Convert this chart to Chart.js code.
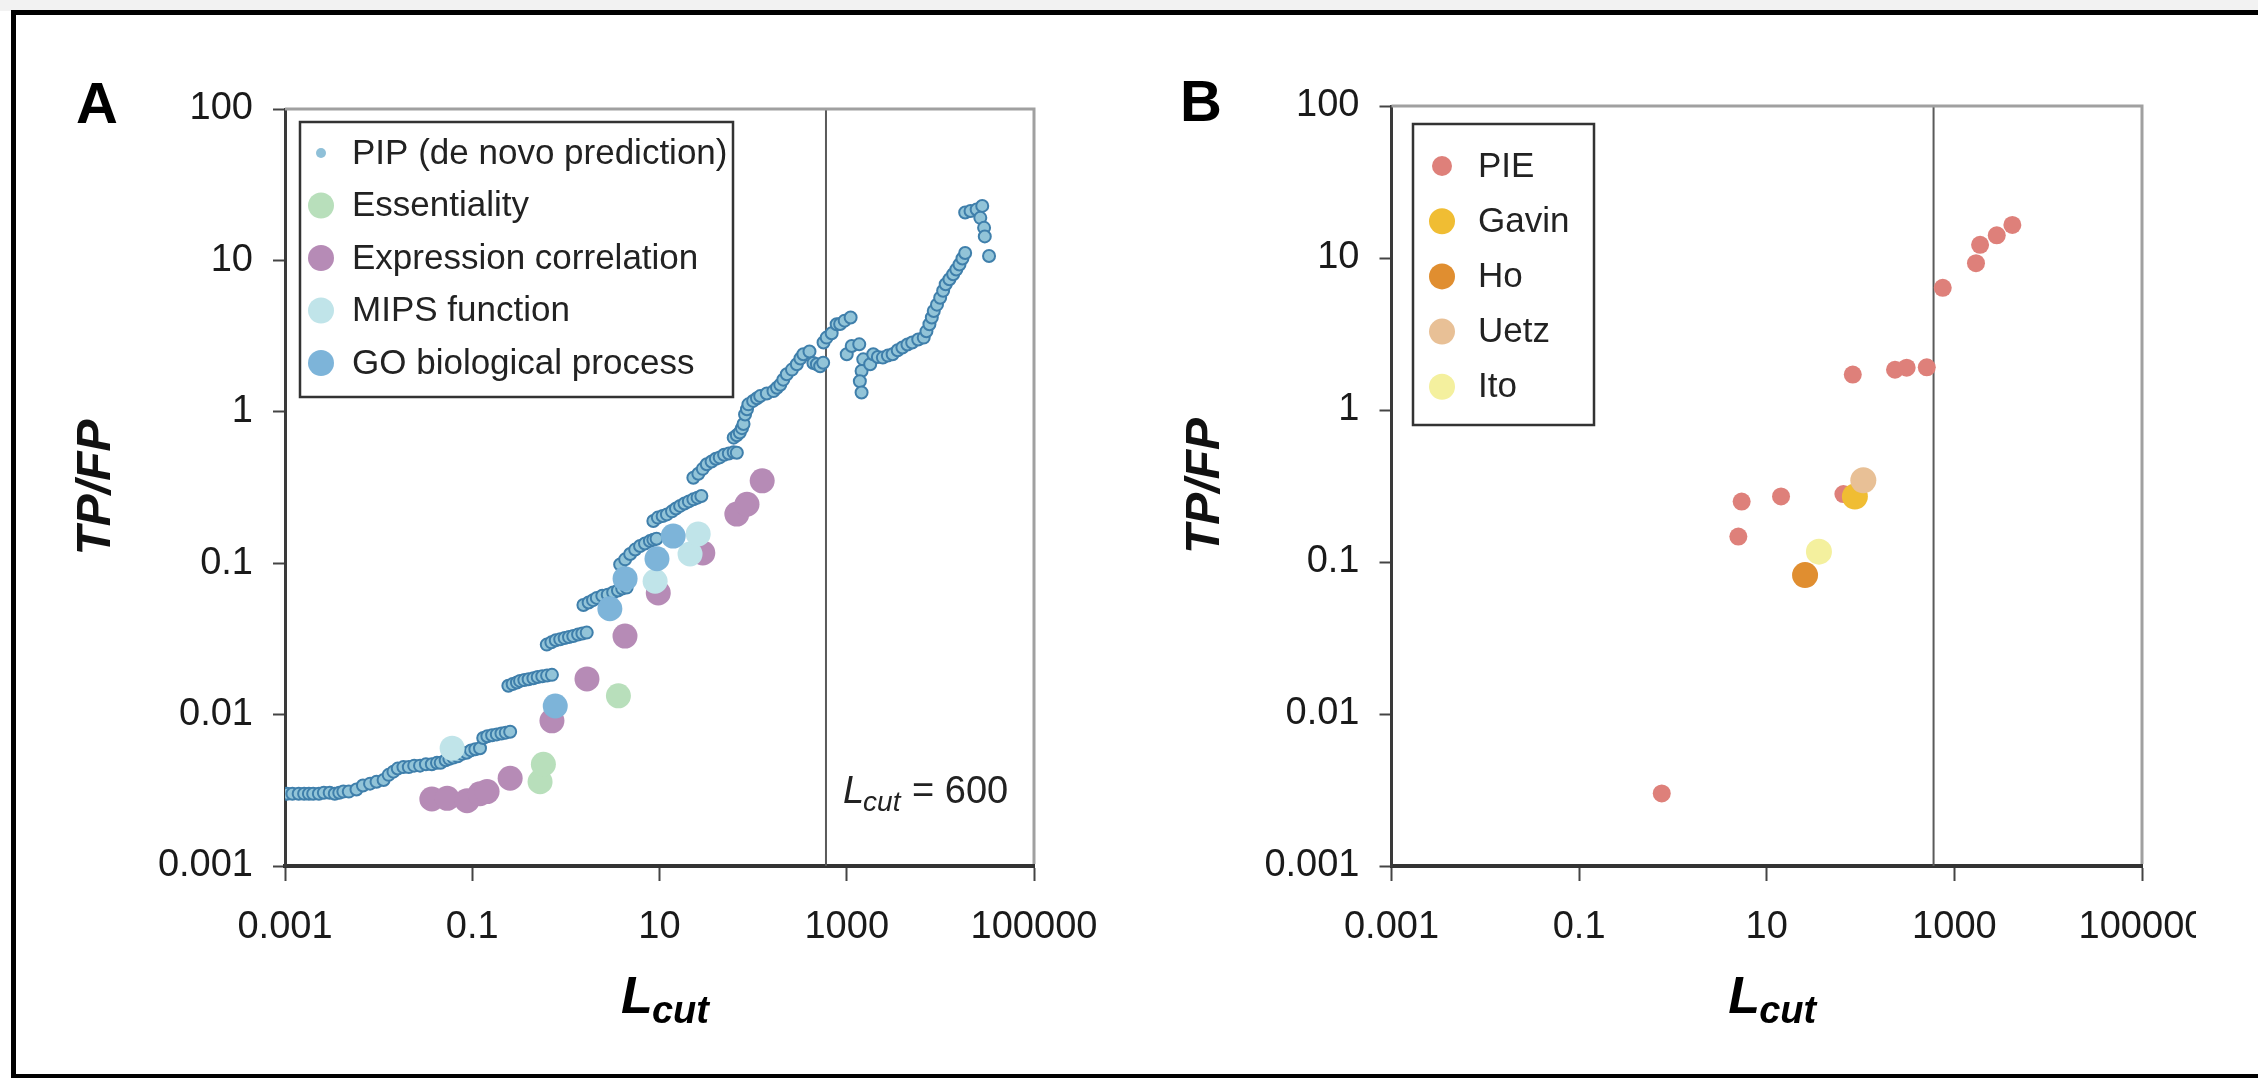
<!DOCTYPE html>
<html>
<head>
<meta charset="utf-8">
<script src="https://cdn.jsdelivr.net/npm/chart.js@4.4.1/dist/chart.umd.min.js"></script>
<style>
  html, body { margin: 0; padding: 0; background: #fff; }
  body { width: 2258px; height: 1078px; position: relative; overflow: hidden; }
  #strip { position: absolute; left: 0; top: 0; width: 2258px; height: 11px; background: #f2f2f2; }
  #frame { position: absolute; left: 11px; top: 10px; width: 2260px; height: 1059px;
           border-left: 5px solid #000; border-top: 5px solid #000; border-bottom: 4px solid #000; }
  #wrapA { position: absolute; left: 0; top: 0; width: 1130px; height: 1078px; }
  #wrapB { position: absolute; left: 1130px; top: 0; width: 1066px; height: 1078px; overflow: hidden; }
</style>
</head>
<body>
<div id="strip"></div>
<div id="frame"></div>
<div id="wrapA"><canvas id="chartA" width="1130" height="1078"></canvas></div>
<div id="wrapB"><canvas id="chartB" width="1128" height="1078"></canvas></div>
<script>
// axis ticks
var xTicks = [0.001, 0.1, 10, 1000, 100000];
var xTickLabels = ['0.001', '0.1', '10', '1000', '100000'];
var yTicks = [0.001, 0.01, 0.1, 1, 10, 100];
var yTickLabels = ['0.001', '0.01', '0.1', '1', '10', '100'];
var lcut = 600;
var lcutLabelY = 0.0026;

// panel A : PIP de novo prediction, [Lcut, TP/FP]
var pip = [
  [0.00105,0.0030],[0.0012,0.0030],[0.0014,0.0030],[0.0016,0.0030],[0.0018,0.0030],[0.002,0.0030],
  [0.0023,0.0030],[0.0026,0.00305],[0.003,0.00305],[0.0034,0.0030],[0.0038,0.00305],[0.0042,0.0031],
  [0.0048,0.0031],[0.0058,0.0032],[0.0068,0.0034],[0.0081,0.0035],[0.0095,0.0036],[0.0113,0.0037],
  [0.0128,0.0040],[0.0144,0.0042],[0.016,0.0044],[0.0184,0.0045],[0.021,0.0045],[0.024,0.0046],
  [0.0277,0.0046],[0.032,0.0047],[0.037,0.0047],[0.042,0.0048],[0.046,0.0048],[0.052,0.0050],
  [0.057,0.0051],[0.063,0.0052],[0.07,0.0053],[0.078,0.0055],[0.087,0.0056],[0.097,0.0058],
  [0.108,0.0059],[0.121,0.0060],
  [0.131,0.0070],[0.145,0.0072],[0.163,0.0073],[0.183,0.0074],[0.205,0.0075],[0.228,0.0076],[0.254,0.0077],
  [0.243,0.0155],[0.27,0.0159],[0.3,0.0163],[0.324,0.0167],[0.36,0.0169],[0.4,0.0171],[0.45,0.0174],
  [0.5,0.0177],[0.56,0.0179],[0.63,0.0181],[0.71,0.0183],
  [0.625,0.029],[0.7,0.030],[0.78,0.031],[0.87,0.0314],[0.97,0.032],[1.08,0.0325],[1.2,0.033],
  [1.35,0.0338],[1.5,0.0343],[1.67,0.0348],
  [1.54,0.053],[1.75,0.055],[1.95,0.057],[2.14,0.059],[2.45,0.061],[2.8,0.062],[3.2,0.064],
  [3.6,0.066],[4.0,0.068],[4.46,0.069],
  [3.8,0.098],[4.3,0.106],[4.86,0.115],[5.5,0.123],[6.2,0.13],[7.0,0.135],[7.9,0.14],[8.6,0.143],[9.3,0.145],
  [8.6,0.19],[9.6,0.2],[10.8,0.205],[12,0.21],[13.6,0.22],[15,0.23],[16.6,0.239],[18.5,0.248],
  [20.6,0.256],[23,0.264],[25.5,0.271],[28,0.278],
  [23,0.367],[26,0.39],[29,0.42],[32,0.45],[36,0.47],[40,0.49],[44,0.50],[49,0.52],[55,0.53],[62,0.54],[67,0.537],
  [62,0.675],[67,0.7],[72,0.73],[76,0.78],[79,0.83],[82,0.96],[86,1.04],[89,1.12],[100,1.18],[110,1.23],
  [119,1.27],[140,1.32],[165,1.37],[180,1.44],[195,1.51],[210,1.63],[229,1.77],[260,1.9],[293,2.06],
  [320,2.25],[344,2.4],[400,2.5],[440,2.1],[480,2.06],[520,2.0],[560,2.11],[565,2.87],[610,3.09],
  [690,3.3],[780,3.79],[850,3.8],[950,4.0],[1100,4.2],
  [1000,2.4],[1130,2.72],[1360,2.79],[1500,2.22],[1440,1.86],[1380,1.59],[1440,1.34],[1780,2.06],
  [1920,2.4],[2150,2.3],[2430,2.28],[2750,2.35],[3090,2.4],[3500,2.55],[3930,2.66],[4450,2.78],
  [5000,2.87],[5800,3.0],[6640,3.09],[7100,3.4],[7640,3.79],[8100,4.2],[8500,4.63],[9200,5.1],
  [9950,5.67],[10700,6.3],[11400,6.95],[12500,7.5],[13700,8.1],[14800,8.7],[16000,9.4],[17200,10.3],
  [18400,11.2],[18400,20.7],[21000,21.2],[24400,21.7],[28000,22.9],[26700,19.1],[29300,16.4],
  [29800,14.4],[33100,10.7]
];
var essentiality = [[0.53,0.0036],[0.575,0.0047],[3.64,0.0133]];
var expression = [[0.037,0.00277],[0.054,0.0028],[0.088,0.0027],[0.121,0.0030],[0.144,0.0031],
  [0.254,0.0038],[0.71,0.0091],[1.68,0.0172],[4.28,0.033],[9.7,0.0636],[29,0.117],[67,0.211],
  [86,0.245],[125,0.35]];
var mips = [[0.061,0.0060],[8.98,0.076],[21.2,0.115],[25.9,0.156]];
var goProcess = [[0.77,0.0114],[2.95,0.050],[4.29,0.079],[9.4,0.107],[14,0.151]];

// panel B
var pie = [[0.76,0.0030],[4.98,0.147],[5.4,0.25],[14.2,0.27],[65.6,0.28],[82.6,1.71],[233,1.84],
  [310,1.9],[508,1.91],[752,6.37],[1700,9.25],[1880,12.2],[2830,14.1],[4150,16.5]];
var gavin = [[87,0.27]];
var ho = [[25.6,0.082]];
var uetz = [[107,0.345]];
var ito = [[36,0.117]];

var FONT = '"Liberation Sans", Arial, Helvetica, sans-serif';
Chart.defaults.font.family = FONT;
Chart.defaults.color = '#1a1a1a';

function pts(arr) { return arr.map(function (p) { return {x: p[0], y: p[1]}; }); }

function ds(label, arr, color, r, order, extra) {
  var d = {
    label: label, data: pts(arr), backgroundColor: color, borderColor: color,
    borderWidth: 0, pointRadius: r, pointHoverRadius: r, order: order
  };
  return Object.assign(d, extra || {});
}

var decor = {
  id: 'decor',
  beforeDatasetsDraw: function (chart) {
    var ctx = chart.ctx, a = chart.chartArea;
    var lx = chart.scales.x.getPixelForValue(lcut);
    ctx.save();
    ctx.strokeStyle = '#5a5a5a';
    ctx.lineWidth = 2;
    ctx.beginPath(); ctx.moveTo(lx, a.top); ctx.lineTo(lx, a.bottom); ctx.stroke();
    ctx.restore();
  },
  afterDraw: function (chart, args, o) {
    var ctx = chart.ctx, a = chart.chartArea;
    var xs = chart.scales.x, ys = chart.scales.y;
    ctx.save();
    // top and right edge of the plot
    ctx.strokeStyle = '#a0a0a0';
    ctx.lineWidth = 3;
    ctx.beginPath(); ctx.moveTo(a.left, a.top); ctx.lineTo(a.right, a.top); ctx.lineTo(a.right, a.bottom - 2); ctx.stroke();

    // panel letter
    ctx.fillStyle = '#000';
    ctx.textBaseline = 'alphabetic';
    ctx.textAlign = 'left';
    ctx.font = 'bold 58px ' + FONT;
    ctx.fillText(o.letter, o.letterX, o.letterY);

    // x title: L with subscript cut
    var big = 'italic bold 52px ' + FONT, small = 'italic bold 38px ' + FONT;
    ctx.font = big; var wL = ctx.measureText('L').width;
    ctx.font = small; var wC = ctx.measureText('cut').width;
    var cx = (a.left + a.right) / 2 + 6, by = a.bottom + 147;
    var sx = cx - (wL + wC) / 2;
    ctx.font = big; ctx.fillText('L', sx, by);
    ctx.font = small; ctx.fillText('cut', sx + wL - 1, by + 10);

    // Lcut = 600 note
    if (o.note) {
      var nx = xs.getPixelForValue(lcut) + 17, ny = ys.getPixelForValue(lcutLabelY);
      ctx.fillStyle = '#222';
      ctx.font = 'italic 38px ' + FONT; ctx.fillText('L', nx, ny);
      var w1 = ctx.measureText('L').width;
      ctx.font = 'italic 28px ' + FONT; ctx.fillText('cut', nx + w1 - 1, ny + 8);
      var w2 = ctx.measureText('cut').width;
      ctx.font = '38px ' + FONT; ctx.fillText(' = 600', nx + w1 + w2, ny);
    }

    // legend box
    var L = o.legend;
    var bx = a.left + L.dx, bt = a.top + L.dy;
    ctx.fillStyle = '#fff';
    ctx.fillRect(bx, bt, L.w, L.h);
    ctx.strokeStyle = '#333';
    ctx.lineWidth = 2.5;
    ctx.strokeRect(bx, bt, L.w, L.h);
    ctx.font = '35px ' + FONT;
    ctx.textBaseline = 'middle';
    chart.data.datasets.forEach(function (d, i) {
      var ry = bt + L.first + i * L.step;
      ctx.fillStyle = d.legendColor || d.backgroundColor;
      ctx.beginPath();
      ctx.arc(bx + L.mx, ry, d.legendR || d.pointRadius, 0, Math.PI * 2);
      ctx.fill();
      ctx.fillStyle = '#222';
      ctx.fillText(d.label, bx + L.tx, ry + 1);
    });
    ctx.restore();
  }
};

function makeChart(id, datasets, c) {
  return new Chart(document.getElementById(id), {
    type: 'scatter',
    data: { datasets: datasets },
    options: {
      responsive: false,
      animation: false,
      events: [],
      layout: { padding: { left: c.padLeft, right: c.padRight, top: c.padTop, bottom: 0 } },
      plugins: { legend: { display: false }, tooltip: { enabled: false }, decor: c.decor },
      scales: {
        x: {
          type: 'logarithmic', min: 0.001, max: 100000,
          afterFit: function (s) { s.height = 212; },
          afterBuildTicks: function (s) { s.ticks = xTicks.map(function (v) { return {value: v}; }); },
          ticks: {
            autoSkip: false, maxRotation: 0, padding: 24, color: '#1a1a1a',
            font: { size: 38 },
            callback: function (v, i) { return xTickLabels[i]; }
          },
          grid: { drawOnChartArea: false, drawTicks: true, tickLength: 15, tickWidth: 2, tickColor: '#444' },
          border: { color: '#333', width: 4 }
        },
        y: {
          type: 'logarithmic', min: 0.001, max: 100,
          afterFit: function (s) { s.width = c.yWidth; },
          afterBuildTicks: function (s) { s.ticks = yTicks.map(function (v) { return {value: v}; }); },
          ticks: {
            autoSkip: false, padding: 20, color: '#1a1a1a',
            font: { size: 38 },
            callback: function (v, i) { return yTickLabels[i]; }
          },
          grid: { drawOnChartArea: false, drawTicks: true, tickLength: 12, tickWidth: 2, tickColor: '#444' },
          border: { color: '#3a3a3a', width: 3 },
          title: {
            display: true, text: 'TP/FP', color: '#111', padding: 0,
            font: { size: 48, weight: 'bold', style: 'italic' }
          }
        }
      }
    },
    plugins: [decor]
  });
}

makeChart('chartA', [
  ds('PIP (de novo prediction)', pip, '#92c4d8', 6, 5,
     { borderColor: '#3f7fab', borderWidth: 2, legendColor: '#8fc0d8', legendR: 5 }),
  ds('Essentiality', essentiality, '#b8dfbb', 12.5, 4, { legendR: 13 }),
  ds('Expression correlation', expression, '#b68bb6', 12.5, 3, { legendR: 13 }),
  ds('MIPS function', mips, '#c0e4e9', 12.5, 2, { legendR: 13 }),
  ds('GO biological process', goProcess, '#7db4d9', 12.5, 1, { legendR: 13 })
], {
  padLeft: 68, yWidth: 217, padRight: 96, padTop: 109,
  decor: { letter: 'A', letterX: 76, letterY: 123, note: true,
           legend: { dx: 15, dy: 13, w: 433, h: 275, first: 31, step: 52.5, mx: 21, tx: 52 } }
});

makeChart('chartB', [
  ds('PIE', pie, '#de807a', 9, 5, { legendR: 10 }),
  ds('Gavin', gavin, '#f0bd33', 13, 4),
  ds('Ho', ho, '#e08e30', 13, 3),
  ds('Uetz', uetz, '#e8c096', 13, 2),
  ds('Ito', ito, '#f4f09e', 13, 1)
], {
  padLeft: 47, yWidth: 214.5, padRight: 116, padTop: 106,
  decor: { letter: 'B', letterX: 50, letterY: 121, note: false,
           legend: { dx: 21.5, dy: 18, w: 181, h: 301, first: 42, step: 55.2, mx: 29, tx: 65 } }
});
</script>
</body>
</html>
